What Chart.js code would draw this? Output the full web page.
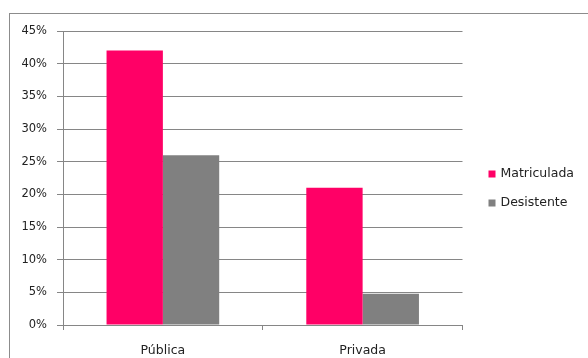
<!DOCTYPE html>
<html>
<head>
<meta charset="utf-8">
<script src="https://cdn.jsdelivr.net/npm/chart.js@4.4.1/dist/chart.umd.min.js"></script>
<style>
  html, body { margin: 0; padding: 0; background: #fff; overflow: hidden; }
  #wrap { position: relative; width: 588px; height: 358px; overflow: hidden; }
  #frame { position: absolute; left: 9px; top: 13px; right: 0; bottom: 0; border-top: 1px solid #8c8c8c; border-left: 1px solid #8c8c8c; pointer-events: none; }
</style>
</head>
<body>
<div id="wrap">
  <canvas id="chart" width="588" height="358"></canvas>
  <div id="frame"></div>
</div>
<script>
// ── Data ──────────────────────────────────────────────────────────────────
const CATEGORIES = ["Pública", "Privada"];
const MATRICULADA = [42, 21];
const DESISTENTE = [26, 4.8];
const Y_MAX = 45;
const Y_STEP = 5;

const FAMILY = "'DejaVu Sans', Verdana, sans-serif";
const LINE = "#868686";

// simple legend on the right, drawn next to the plot area
const sideLegend = {
  id: "sideLegend",
  afterDraw(chart) {
    const ctx = chart.ctx;
    const x = chart.chartArea.right + 26;
    let y = 174;
    ctx.save();
    ctx.font = "12.5px " + FAMILY;
    ctx.textBaseline = "middle";
    ctx.textAlign = "left";
    chart.data.datasets.forEach(ds => {
      ctx.fillStyle = ds.backgroundColor;
      ctx.fillRect(x, y - 3.5, 7, 7);
      ctx.fillStyle = "#222";
      ctx.fillText(ds.label, x + 12, y);
      y += 29;
    });
    ctx.restore();
  }
};

new Chart(document.getElementById("chart"), {
  type: "bar",
  data: {
    labels: CATEGORIES,
    datasets: [
      { label: "Matriculada", data: MATRICULADA, backgroundColor: "#FF0066", borderWidth: 0 },
      { label: "Desistente", data: DESISTENTE, backgroundColor: "#808080", borderWidth: 0 }
    ]
  },
  options: {
    responsive: false,
    animation: false,
    categoryPercentage: 0.564,
    barPercentage: 1,
    layout: { padding: { top: 31, right: 125.5, left: 0, bottom: 0 } },
    plugins: { legend: { display: false }, tooltip: { enabled: false } },
    scales: {
      x: {
        grid: { offset: true, drawOnChartArea: false, drawTicks: true, tickLength: 5, color: LINE },
        border: { display: true, color: LINE },
        ticks: { color: "#222", font: { family: FAMILY, size: 12.5 }, padding: 13 },
        afterFit: s => { s.height = 33; }
      },
      y: {
        min: 0, max: Y_MAX,
        grid: { color: LINE, tickLength: 6 },
        border: { display: true, color: LINE },
        ticks: { stepSize: Y_STEP, color: "#222", font: { family: FAMILY, size: 11.5 }, padding: 10, callback: v => v + "%" },
        afterFit: s => { s.width = 63; }
      }
    }
  },
  plugins: [sideLegend]
});
</script>
</body>
</html>
